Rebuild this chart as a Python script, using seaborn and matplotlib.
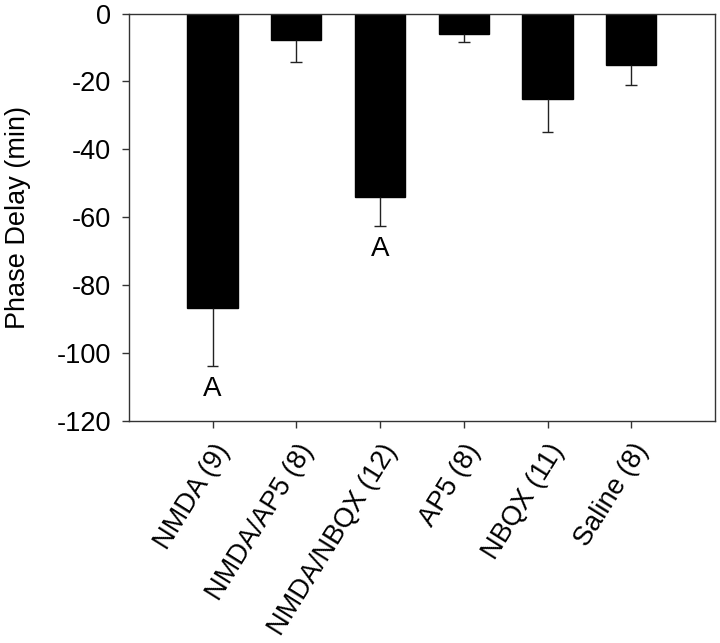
import matplotlib
matplotlib.use("Agg")
import matplotlib.pyplot as plt
import seaborn as sns
import pandas as pd

categories = ["NMDA (9)", "NMDA/AP5 (8)", "NMDA/NBQX (12)", "AP5 (8)", "NBQX (11)", "Saline (8)"]
means = [-86.8, -7.9, -54.1, -6.0, -25.1, -15.3]
sems = [16.9, 6.4, 8.5, 2.5, 9.9, 5.7]
letters = ["A", "", "A", "", "", ""]
yticks = [0, -20, -40, -60, -80, -100, -120]

sns.set_theme(style="white")
plt.rcParams["font.family"] = ["Liberation Sans", "DejaVu Sans"]
plt.rcParams["text.color"] = "black"
plt.rcParams["xtick.color"] = "black"
plt.rcParams["ytick.color"] = "black"
plt.rcParams["axes.labelcolor"] = "black"

df = pd.DataFrame({"group": categories, "delay": means})

fig = plt.figure(figsize=(7.2, 6.43), dpi=100)
ax = fig.add_axes([0.179, 0.345, 0.814, 0.634])

sns.barplot(data=df, x="group", y="delay", color="black", width=0.6,
            saturation=1, errorbar=None, ax=ax, edgecolor="black")

xs = list(range(len(categories)))
lows = [m - s for m, s in zip(means, sems)]
ax.vlines(xs, means, lows, color="#222222", lw=1.0, zorder=3)
ax.hlines(lows, [x - 0.07 for x in xs], [x + 0.07 for x in xs], color="#222222", lw=1.0, zorder=3)

for x, lo, t in zip(xs, lows, letters):
    if t:
        ax.text(x, lo - 6.8, t, ha="center", va="center", fontsize=20, color="black")

ax.set_xlim(-1, 6)
ax.set_ylim(-120, 0)
ax.set_yticks(yticks)
ax.set_yticklabels([str(v) for v in yticks], fontsize=19.5, color="black")
ax.set_xticks(xs)
ax.set_xticklabels(categories, rotation=58, ha="right", rotation_mode="anchor", fontsize=19.5, color="black")
ax.set_xlabel("")
ax.set_ylabel("Phase Delay (min)", fontsize=19.5, labelpad=18, color="black")

for s in ax.spines.values():
    s.set_visible(True)
    s.set_color("#333333")
    s.set_linewidth(1.0)

ax.tick_params(axis="both", direction="out", length=5, width=1, color="#333333", bottom=True, left=True, pad=8)
ax.tick_params(axis="x", pad=8)

fig.savefig("out.png", dpi=100)
